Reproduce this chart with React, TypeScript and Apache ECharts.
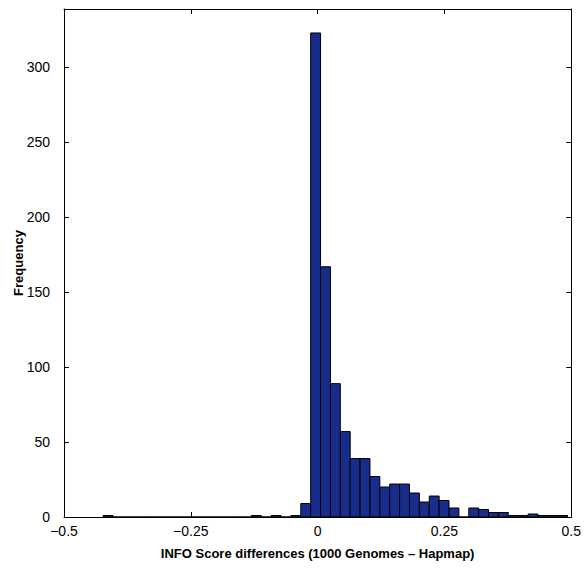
import React, { useEffect, useRef } from "react";
import * as echarts from "echarts";

// Histogram bins (MATLAB-style hist): first edge and bin width
const binStart = [-0.4228];
const binWidth = [0.01948];
// Counts per bin, left to right (47 bins)
const counts = [
  1, 0, 0, 0, 0, 0, 0, 0, 0, 0,
  0, 0, 0, 0, 0, 1, 0, 1, 0, 1,
  9, 323, 167, 89, 57, 39, 39, 27, 20, 22,
  22, 16, 10, 14, 11, 6, 0, 6, 5, 3,
  3, 1, 1, 2, 1, 1, 1,
];
const xTicks = [-0.5, -0.25, 0, 0.25, 0.5];
const xTickLabels = ["\u22120.5", "\u22120.25", "0", "0.25", "0.5"];
const yTicks = [0, 50, 100, 150, 200, 250, 300];
const yName = "Frequency";

const FONT = '"Liberation Sans", Arial, Helvetica, sans-serif';

export default function App() {
  const ref = useRef<HTMLDivElement>(null);
  useEffect(() => {
    if (!ref.current) return;
    const chart = echarts.init(ref.current, undefined, { renderer: "svg" });
    const data = counts.map((c, i) => [
      binStart[0] + i * binWidth[0],
      binStart[0] + (i + 1) * binWidth[0],
      c,
    ]);
    const labelFor = (v: number) => {
      const idx = xTicks.findIndex((t) => Math.abs(t - v) < 1e-9);
      return idx >= 0 ? xTickLabels[idx] : "";
    };
    const yLabel = (v: number) => (yTicks.includes(v) ? String(v) : "");
    const axisLine = { show: true, onZero: false, lineStyle: { color: "#000", width: 1 } };
    const axisTick = { show: true, inside: true, length: 5, lineStyle: { color: "#000" } };
    chart.setOption({
      animation: false,
      grid: { left: 64, right: 11, top: 9, bottom: 51, containLabel: false },
      graphic: [
        {
          type: "text",
          x: 18,
          y: 263,
          rotation: Math.PI / 2,
          style: {
            text: yName,
            fill: "#000",
            font: `bold 13px ${FONT}`,
            align: "center",
            verticalAlign: "middle",
          },
        },
      ],
      xAxis: [
        {
          type: "value",
          min: -0.5,
          max: 0.5,
          interval: 0.25,
          position: "bottom",
          axisLine,
          axisTick,
          splitLine: { show: false },
          axisLabel: {
            color: "#000",
            fontSize: 14,
            fontFamily: FONT,
            margin: 7,
            formatter: labelFor,
          },
          name: "INFO Score differences (1000 Genomes \u2013 Hapmap)",
          nameLocation: "middle",
          nameGap: 30,
          nameTextStyle: {
            color: "#000",
            fontSize: 13,
            fontWeight: "bold",
            fontFamily: FONT,
          },
        },
        {
          type: "value",
          min: -0.5,
          max: 0.5,
          interval: 0.25,
          position: "top",
          axisLine,
          axisTick,
          splitLine: { show: false },
          axisLabel: { show: false },
        },
      ],
      yAxis: [
        {
          type: "value",
          min: 0,
          max: 339,
          interval: 50,
          position: "left",
          axisLine,
          axisTick,
          splitLine: { show: false },
          axisLabel: {
            color: "#000",
            fontSize: 14,
            fontFamily: FONT,
            margin: 14,
            showMaxLabel: false,
            formatter: yLabel,
          },
        },
        {
          type: "value",
          min: 0,
          max: 339,
          interval: 50,
          position: "right",
          axisLine,
          axisTick,
          splitLine: { show: false },
          axisLabel: { show: false },
        },
      ],
      series: [
        {
          type: "custom",
          xAxisIndex: 0,
          yAxisIndex: 0,
          encode: { x: [0, 1], y: 2 },
          data,
          renderItem: (params: any, api: any) => {
            const x0 = api.value(0);
            const x1 = api.value(1);
            const y = api.value(2);
            const p0 = api.coord([x0, y]);
            const p1 = api.coord([x1, 0]);
            return {
              type: "rect",
              shape: {
                x: p0[0],
                y: p0[1],
                width: p1[0] - p0[0],
                height: p1[1] - p0[1],
              },
              style: { fill: "#182c8c", stroke: "#000", lineWidth: 1 },
            };
          },
        },
      ],
    });
    return () => chart.dispose();
  }, []);
  return (
    <div
      ref={ref}
      style={{ position: "fixed", left: 0, top: 0, width: 584, height: 568, background: "#fff" }}
    />
  );
}
